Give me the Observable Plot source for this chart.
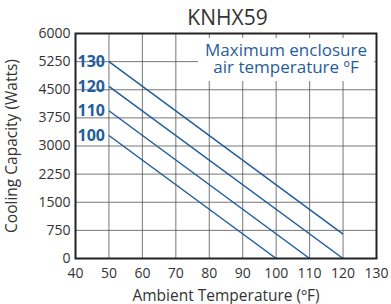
<!DOCTYPE html>
<html><head><meta charset="utf-8">
<script src="https://cdn.jsdelivr.net/npm/d3@7"></script>
<script src="https://cdn.jsdelivr.net/npm/@observablehq/plot@0.6"></script>
<style>
body{margin:0;background:#fff;font-family:"Open Sans",sans-serif;}
#title{position:absolute;left:0;width:391px;top:0;text-align:center;font-size:21px;color:#333;padding-left:64px;box-sizing:border-box;line-height:34px;}
#chart{position:absolute;left:0;top:0;}
#note{position:absolute;left:198px;top:38px;width:176px;height:43px;background:#fff;color:#1f5d9c;font-size:17px;line-height:17px;text-align:center;padding-top:3px;box-sizing:border-box;white-space:pre;}
</style></head><body>
<div id="title">KNHX59</div>
<div id="chart"></div>
<div id="note"></div>
<script>
const seriesNames = ["100", "110", "120", "130"];
const startTemp = [50, 50, 50, 50];
const endTemp = [100, 110, 120, 120];
const startWatts = [3280, 3940, 4590, 5250];
const endWatts = [0, 0, 0, 650];
const xTicks = [40, 50, 60, 70, 80, 90, 100, 110, 120, 130];
const yTicks = [0, 750, 1500, 2250, 3000, 3750, 4500, 5250, 6000];
const noteText = "Maximum enclosure\nair temperature ºF";

const segs = seriesNames.map((s, i) => ({s, x1: startTemp[i], y1: startWatts[i], x2: endTemp[i], y2: endWatts[i]}));
const blue = "#1f5d9c";

const plot = Plot.plot({
  width: 391, height: 304,
  marginLeft: 75, marginRight: 15, marginTop: 33, marginBottom: 46,
  style: {fontFamily: "'Open Sans', sans-serif", fontSize: "14px", color: "#333", background: "transparent"},
  x: {domain: [40, 130]},
  y: {domain: [0, 6000]},
  marks: [
    Plot.gridX(xTicks, {stroke: "#555", strokeOpacity: 0.8, strokeWidth: 1}),
    Plot.gridY(yTicks, {stroke: "#555", strokeOpacity: 0.8, strokeWidth: 1}),
    Plot.axisX(xTicks, {tickSize: 0, tickPadding: 10, fontSize: 14, label: null}),
    Plot.axisX({ticks: [], label: "Ambient Temperature (ºF)", labelAnchor: "center", labelArrow: "none", labelOffset: 42, fontSize: 15.5}),
    Plot.axisY(yTicks, {tickSize: 0, tickPadding: 5, fontSize: 14, tickFormat: d3.format("d"), label: null}),
    Plot.axisY({ticks: [], label: "Cooling Capacity (Watts)", labelAnchor: "center", labelArrow: "none", labelOffset: 70, fontSize: 15.5}),
    Plot.link(segs, {x1: "x1", y1: "y1", x2: "x2", y2: "y2", stroke: blue, strokeWidth: 1.5}),
    Plot.text(segs, {x: d => 40, y: "y1", text: "s", fill: blue, fontWeight: "bold", fontSize: 16, textAnchor: "start", dx: 2}),
    Plot.frame({stroke: "#222", strokeWidth: 2})
  ]
});
document.getElementById("chart").appendChild(plot);
document.getElementById("note").textContent = noteText;
</script>
</body></html>
